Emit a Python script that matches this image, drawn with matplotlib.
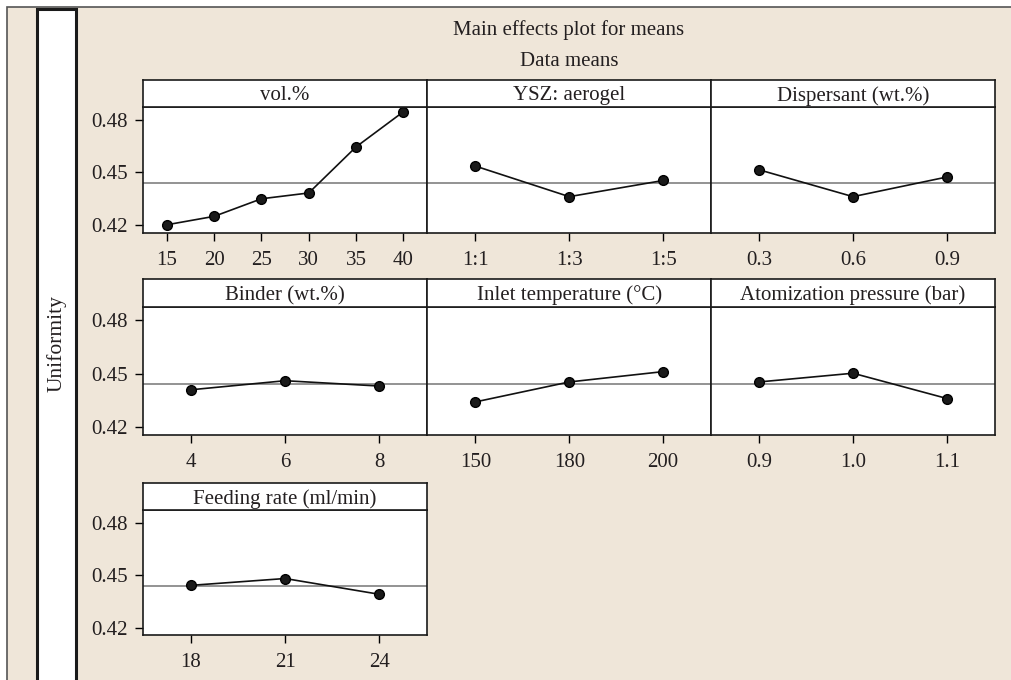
import matplotlib
matplotlib.use("Agg")
import matplotlib.pyplot as plt
from matplotlib.patches import Rectangle

plt.rcParams['font.family'] = ['Liberation Serif', 'DejaVu Serif']

# ---- data ----
titles = ["vol.%", "YSZ: aerogel", "Dispersant (wt.%)",
          "Binder (wt.%)", "Inlet temperature (°C)", "Atomization pressure (bar)",
          "Feeding rate (ml/min)"]
vol_levels = ["15", "20", "25", "30", "35", "40"]
vol_means = [0.4202, 0.4250, 0.4350, 0.4383, 0.4645, 0.4845]
ysz_levels = ["1:1", "1:3", "1:5"]
ysz_means = [0.4536, 0.4362, 0.4454]
disp_levels = ["0.3", "0.6", "0.9"]
disp_means = [0.4515, 0.4362, 0.4474]
binder_levels = ["4", "6", "8"]
binder_means = [0.4409, 0.4460, 0.4430]
inlet_levels = ["150", "180", "200"]
inlet_means = [0.4341, 0.4453, 0.4511]
atom_levels = ["0.9", "1.0", "1.1"]
atom_means = [0.4453, 0.4502, 0.4360]
feed_levels = ["18", "21", "24"]
feed_means = [0.4442, 0.4481, 0.4391]
grand_mean = 0.4440
y_ticks = [0.42, 0.45, 0.48]
y_ticklabels = ["0.42", "0.45", "0.48"]

panels = [
    (vol_levels, vol_means), (ysz_levels, ysz_means), (disp_levels, disp_means),
    (binder_levels, binder_means), (inlet_levels, inlet_means), (atom_levels, atom_means),
    (feed_levels, feed_means),
]

# ---- layout (pixels) ----
W, H = 1012, 680
BG = '#efe6d9'
TXT = '#231f20'
FS = 15
plt.rcParams['text.color'] = TXT
plt.rcParams['xtick.labelcolor'] = TXT
plt.rcParams['ytick.labelcolor'] = TXT
fig = plt.figure(figsize=(W / 100, H / 100), dpi=100, facecolor='white')

def fx(x):
    return x / W

def fy(y):
    return 1 - y / H

# beige frame
fig.patches.append(Rectangle((fx(7), -0.01), 1.02, fy(7) + 0.01, transform=fig.transFigure,
                             facecolor=BG, edgecolor='#555555', linewidth=1.2, zorder=-10))
# white label strip at left
fig.patches.append(Rectangle((fx(37), -0.02), fx(76) - fx(37), fy(8.5) + 0.02,
                             transform=fig.transFigure, facecolor='white',
                             edgecolor='#1a1a1a', linewidth=2.2, zorder=-9))
fig.text(fx(56.5), fy(344), "Uniformity", rotation=90, ha='center', va='center', fontsize=FS + 0.5)

fig.text(fx(569), fy(30), "Main effects plot for means", ha='center', va='center', fontsize=FS)
fig.text(fx(569), fy(62), "Data means", ha='center', va='center', fontsize=FS)

col_x = [142.7, 427.5, 711.0, 995.0]
row_strip_top = [80.0, 279.3, 483.3]
row_strip_bot = [107.0, 307.3, 510.0]
row_ax_bot = [232.7, 434.7, 635.3]

for i, (levels, means) in enumerate(panels):
    r, c = divmod(i, 3)
    x0, x1 = col_x[c], col_x[c + 1]
    ax = fig.add_axes([fx(x0), fy(row_ax_bot[r]), fx(x1 - x0), (row_ax_bot[r] - row_strip_bot[r]) / H])
    sax = fig.add_axes([fx(x0), fy(row_strip_bot[r]), fx(x1 - x0), (row_strip_bot[r] - row_strip_top[r]) / H])
    sax.set_xticks([]); sax.set_yticks([])
    sax.set_facecolor('white')
    for sp in sax.spines.values():
        sp.set_linewidth(1.2); sp.set_color('#1a1a1a')
    sax.text(0.5, 0.42, titles[i], ha='center', va='center', fontsize=FS, transform=sax.transAxes)

    ax.set_facecolor('white')
    ax.axhline(grand_mean, color='#8a8a8a', linewidth=1.3, zorder=1)
    ax.plot(levels, means, color='#111111', linewidth=1.2, marker='o', markersize=7,
            markerfacecolor='#1a1a1a', markeredgecolor='#000000', zorder=3)
    n = len(levels)
    ax.set_xlim(-0.51, n - 1 + 0.51)
    ax.set_ylim(0.4157, 0.4872)
    ax.tick_params(axis='x', direction='out', length=6, width=1, pad=7, labelsize=FS)
    if c == 0:
        ax.set_yticks(y_ticks)
        ax.set_yticklabels(y_ticklabels)
        ax.tick_params(axis='y', direction='out', length=6, width=1, pad=5, labelsize=FS)
    else:
        ax.set_yticks([])
    for sp in ax.spines.values():
        sp.set_linewidth(1.2); sp.set_color('#1a1a1a')

fig.savefig("out.png", dpi=100, facecolor=fig.get_facecolor())
